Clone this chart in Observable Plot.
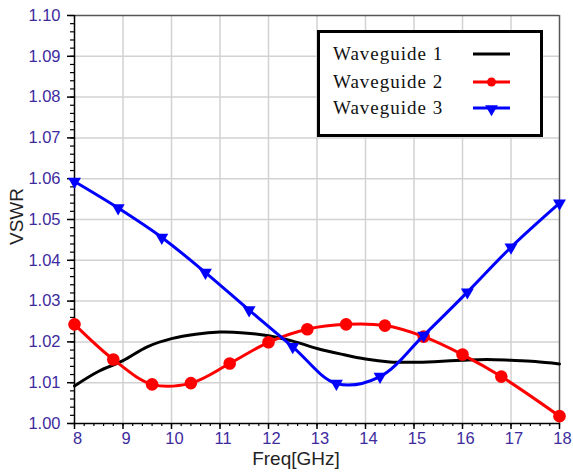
<!DOCTYPE html>
<html>
<head>
<meta charset="utf-8">
<script src="https://cdn.jsdelivr.net/npm/d3@7"></script>
<script src="https://cdn.jsdelivr.net/npm/@observablehq/plot@0.6"></script>
<style>
  body { margin: 0; background: #fff; }
  #chart { position: relative; width: 573px; height: 473px; }
  .legend {
    position: absolute; left: 317px; top: 30px; width: 226px; height: 107px;
    border: 3px solid #000; box-sizing: border-box; background: #fff;
    font-family: "Liberation Serif", "Times New Roman", serif; font-size: 19px; color: #111;
  }
  .legend .row { position: absolute; left: 13px; height: 24px; line-height: 24px; letter-spacing: 1px; white-space: nowrap; }
  .legend svg { position: absolute; left: 153px; }
</style>
</head>
<body>
<div id="chart"></div>
<script>
// Axis ticks
const xTicks = [8, 9, 10, 11, 12, 13, 14, 15, 16, 17, 18];
const yTicks = [1.00, 1.01, 1.02, 1.03, 1.04, 1.05, 1.06, 1.07, 1.08, 1.09, 1.10];

// Series names
const names = ["Waveguide 1", "Waveguide 2", "Waveguide 3"];

// Waveguide 1 (no markers)
const freq1 = [8, 8.5, 9, 9.5, 10, 10.5, 11, 11.5, 12, 12.5, 13, 13.5, 14, 14.5, 15, 15.5, 16, 16.5, 17, 17.5, 18];
const vswr1 = [1.0092, 1.0128, 1.0154, 1.0188, 1.0208, 1.0219, 1.0224, 1.0222, 1.0215, 1.0202, 1.0184,
               1.0170, 1.0158, 1.0151, 1.0150, 1.0152, 1.0155, 1.0157, 1.0155, 1.0152, 1.0146];

// Waveguide 2 (circle markers)
const freq2 = [8, 8.8, 9.6, 10.4, 11.2, 12, 12.8, 13.6, 14.4, 15.2, 16, 16.8, 18];
const vswr2 = [1.0243, 1.0157, 1.0096, 1.0099, 1.0147, 1.0199, 1.0231, 1.0243, 1.0240, 1.0213, 1.0169, 1.0115, 1.0018];

// Waveguide 3 (triangle markers)
const freq3 = [8, 8.9, 9.8, 10.7, 11.6, 12.5, 13.4, 14.3, 15.2, 16.1, 17, 18];
const vswr3 = [1.0593, 1.0528, 1.0456, 1.0370, 1.0278, 1.0188, 1.0098, 1.0115, 1.0216, 1.0322, 1.0432, 1.0540];

const seriesColor = ["#000000", "#ff0000", "#0000ff"];
const tickColor = "#3d2b9e";

const rows = (f, v) => f.map((x, i) => ({freq: x, vswr: v[i]}));
const s1 = rows(freq1, vswr1), s2 = rows(freq2, vswr2), s3 = rows(freq3, vswr3);

const minorX = d3.range(8, 18.0001, 0.2).map(v => +v.toFixed(1));
const minorY = d3.range(1.0, 1.1001, 0.002).map(v => +v.toFixed(3));
const grid = {stroke: "#d2d2d2", strokeOpacity: 1, strokeWidth: 1.5};

const plot = Plot.plot({
  width: 573,
  height: 473,
  marginLeft: 74,
  marginRight: 14,
  marginTop: 15,
  marginBottom: 50,
  style: {fontFamily: '"Liberation Sans", Arial, sans-serif', fontSize: "16.5px", background: "transparent", overflow: "visible"},
  x: {domain: [8, 18]},
  y: {domain: [1.0, 1.1]},
  marks: [
    Plot.gridX(xTicks.slice(1, -1), grid),
    Plot.gridY(yTicks.slice(1, -1), grid),
    Plot.ruleY([1.10], {stroke: "#555", strokeWidth: 1.5}),
    Plot.ruleX([18], {stroke: "#555", strokeWidth: 1.5}),
    // minor and major ticks
    Plot.axisX(minorX, {tickSize: 3, text: null, label: null, stroke: "#000", strokeWidth: 1.2}),
    Plot.axisX(xTicks, {tickSize: 6, text: null, label: null, stroke: "#000", strokeWidth: 1.5}),
    Plot.axisX(xTicks, {tickSize: 0, tickPadding: 9, dx: 3, fill: tickColor, label: null, tickFormat: d => String(d)}),
    Plot.axisY(minorY, {tickSize: 4, text: null, label: null, stroke: "#000", strokeWidth: 1.2}),
    Plot.axisY(yTicks, {tickSize: 7, text: null, label: null, stroke: "#000", strokeWidth: 1.5}),
    Plot.axisY(yTicks, {tickSize: 0, tickPadding: 14, fill: tickColor, label: null, tickFormat: d3.format(".2f")}),
    Plot.ruleX([8], {stroke: "#000", strokeWidth: 1.5}),
    Plot.ruleY([1.0], {stroke: "#000", strokeWidth: 1.5}),
    // axis titles
    Plot.text(["VSWR"], {frameAnchor: "left", rotate: -90, dx: -58, dy: -3, fontSize: 19, fill: "#222", textAnchor: "middle"}),
    Plot.text(["Freq[GHz]"], {frameAnchor: "bottom", dx: -21, dy: 35, fontSize: 19, fill: "#222", textAnchor: "middle", lineAnchor: "middle"}),
    // series
    Plot.line(s1, {x: "freq", y: "vswr", stroke: seriesColor[0], strokeWidth: 3, curve: "catmull-rom"}),
    Plot.line(s2, {x: "freq", y: "vswr", stroke: seriesColor[1], strokeWidth: 3, curve: "catmull-rom"}),
    Plot.dot(s2, {x: "freq", y: "vswr", r: 6.3, fill: seriesColor[1], stroke: null}),
    Plot.line(s3, {x: "freq", y: "vswr", stroke: seriesColor[2], strokeWidth: 3, curve: "catmull-rom"}),
    Plot.dot(s3, {x: "freq", y: "vswr", r: 4.8, symbol: "triangle", rotate: 180, fill: seriesColor[2], stroke: null})
  ]
});

const chart = document.getElementById("chart");
chart.appendChild(plot);

// Legend box
const legend = document.createElement("div");
legend.className = "legend";
const rowTops = [9, 37, 63];
names.forEach((name, i) => {
  const row = document.createElement("div");
  row.className = "row";
  row.style.top = rowTops[i] + "px";
  row.textContent = name;
  legend.appendChild(row);
  const sw = d3.create("svg").attr("width", 38).attr("height", 24)
    .style("top", rowTops[i] + "px");
  sw.append("line").attr("x1", 0).attr("x2", 37).attr("y1", 12).attr("y2", 12)
    .attr("stroke", seriesColor[i]).attr("stroke-width", 3);
  if (i === 1) sw.append("circle").attr("cx", 18.5).attr("cy", 12).attr("r", 4.5).attr("fill", seriesColor[i]);
  if (i === 2) sw.append("path").attr("d", d3.symbol(d3.symbolTriangle, 70)())
    .attr("transform", "translate(18.5,13) rotate(180)").attr("fill", seriesColor[i]);
  legend.appendChild(sw.node());
});
chart.appendChild(legend);
</script>
</body>
</html>
